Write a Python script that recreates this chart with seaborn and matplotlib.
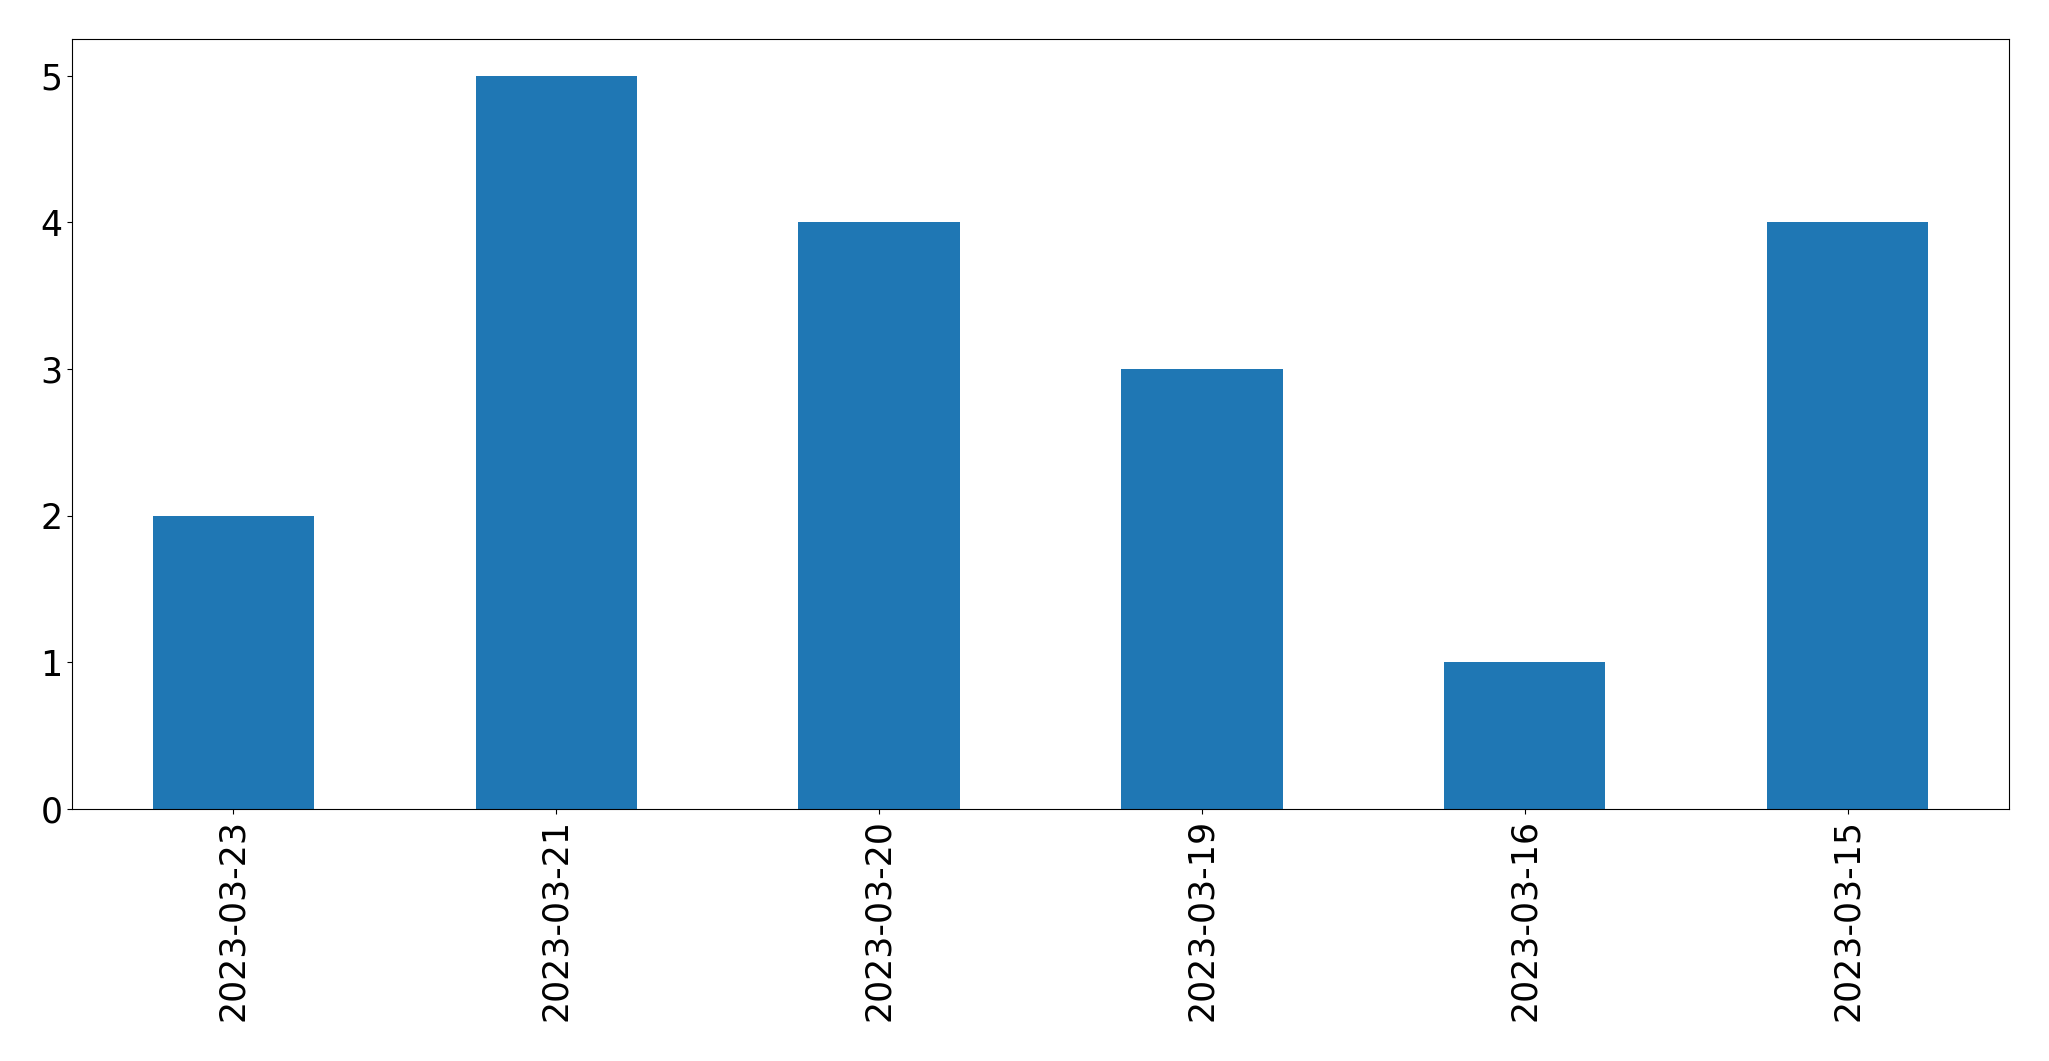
import pandas as pd
import matplotlib
matplotlib.use("Agg")
import matplotlib.pyplot as plt
import seaborn as sns

# Data
dates = ["2023-03-23", "2023-03-21", "2023-03-20", "2023-03-19", "2023-03-16", "2023-03-15"]
counts = [2, 5, 4, 3, 1, 4]

df = pd.DataFrame({"date": dates, "count": counts})

fig = plt.figure(figsize=(20.49, 10.61), dpi=100)
ax = fig.add_axes([72 / 2049, 1 - 809 / 1061, (2009 - 72) / 2049, (809 - 39) / 1061])

sns.barplot(data=df, x="date", y="count", order=dates, color="#1f77b4",
            saturation=1, width=0.5, ax=ax)

ax.set_ylim(0, 5.25)
ax.set_xlabel("")
ax.set_ylabel("")
ax.tick_params(axis="both", labelsize=25)
plt.setp(ax.get_xticklabels(), rotation=90)

fig.savefig("out.png", dpi=100)
